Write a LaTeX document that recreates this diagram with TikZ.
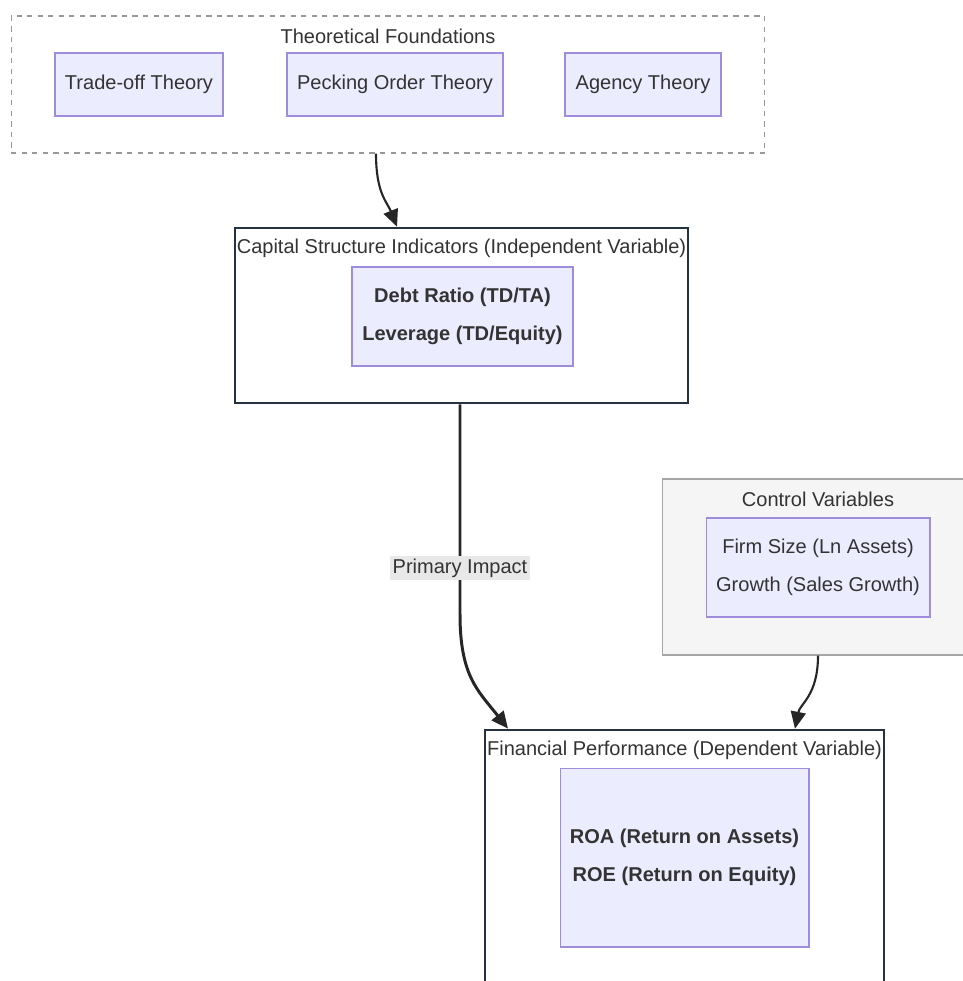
\documentclass[tikz,border=0pt]{standalone}
\usepackage{fontspec}
\setmainfont{Liberation Sans}
\usetikzlibrary{arrows.meta,positioning,calc}
\definecolor{cajaitem}{RGB}{236,236,255}
\definecolor{bordeitem}{RGB}{160,140,220}
\definecolor{bordegrupo}{RGB}{36,50,66}
\definecolor{cajacontrol}{RGB}{245,245,245}
\definecolor{textogris}{RGB}{51,51,51}
\definecolor{etiqueta}{RGB}{232,232,232}

\begin{document}
\begin{tikzpicture}[x=0.02cm, y=-0.02cm,
  every node/.style={font=\fontsize{11.4}{21.6}\selectfont, text=textogris},
  item/.style={draw=bordeitem, fill=cajaitem, line width=0.6pt, align=center,
    minimum height=1.26cm, inner sep=0pt},
  grupo/.style={draw=bordegrupo, fill=white, line width=1.5pt, inner sep=0pt},
  titulo/.style={inner sep=0pt},
  flecha/.style={draw=black!85, line width=1.2pt, -{Triangle[length=3.4mm,width=3mm]}}]

\useasboundingbox (0,0) rectangle (963,981);

% fundamentos teoricos
\node[draw=gray!80, dashed, line width=0.6pt, minimum width=15.08cm, minimum height=2.74cm]
  (Teorias) at (388,84.5) {};
\node[titulo] (TeoriasTit) at (388,36) {Theoretical Foundations};
\node[item, minimum width=3.36cm] (TradeOff) at (139,84.5) {Trade-off Theory};
\node[item, minimum width=4.32cm] (PeckingOrder) at (395,84.5) {Pecking Order Theory};
\node[item, minimum width=3.12cm] (Agencia) at (643,84.5) {Agency Theory};

% variable independiente
\node[grupo, minimum width=9.06cm, minimum height=3.5cm] (Capital) at (461.5,315.5) {};
\node[titulo] (CapitalTit) at (461.5,248) {Capital Structure Indicators (Independent Variable)};
\node[item, minimum width=4.42cm, minimum height=1.98cm, font=\fontsize{11.4}{21.6}\selectfont\bfseries]
  (Deuda) at (462.5,316.5) {Debt Ratio (TD/TA)\\Leverage (TD/Equity)};

% variables de control
\node[draw=gray!70, fill=cajacontrol, line width=0.6pt, minimum width=6.24cm, minimum height=3.52cm]
  (Control) at (818,567) {};
\node[titulo] (ControlTit) at (818,499) {Control Variables};
\node[item, minimum width=4.48cm, minimum height=1.98cm]
  (ControlVars) at (818,567.5) {Firm Size (Ln Assets)\\Growth (Sales Growth)};

% variable dependiente
\node[grupo, minimum width=7.98cm, minimum height=5.2cm] (Financiero) at (684.5,860) {};
\node[titulo] (FinancieroTit) at (684.5,750) {Financial Performance (Dependent Variable)};
\node[item, minimum width=4.98cm, minimum height=3.58cm, font=\fontsize{11.4}{21.6}\selectfont\bfseries]
  (Rentabilidad) at (684.5,857.5) {ROA (Return on Assets)\\ROE (Return on Equity)};

\draw[flecha] ([xshift=-0.24cm]Teorias.south)
  .. controls ++(0,40) and ++(-10,-25) .. ([xshift=-1.29cm]Capital.north);
\draw[flecha, line width=1.7pt] ([xshift=-0.03cm]Capital.south) -- ++(0,210)
  node[pos=0.78, fill=etiqueta, inner sep=1.5pt] (Impacto) {Primary Impact}
  .. controls ++(0,62) and ++(-30,-38) .. ([xshift=-3.53cm]Financiero.north);
\draw[flecha] (Control.south)
  .. controls ++(0,40) and ++(5,-25) .. ([xshift=2.21cm]Financiero.north);

\end{tikzpicture}
\end{document}
